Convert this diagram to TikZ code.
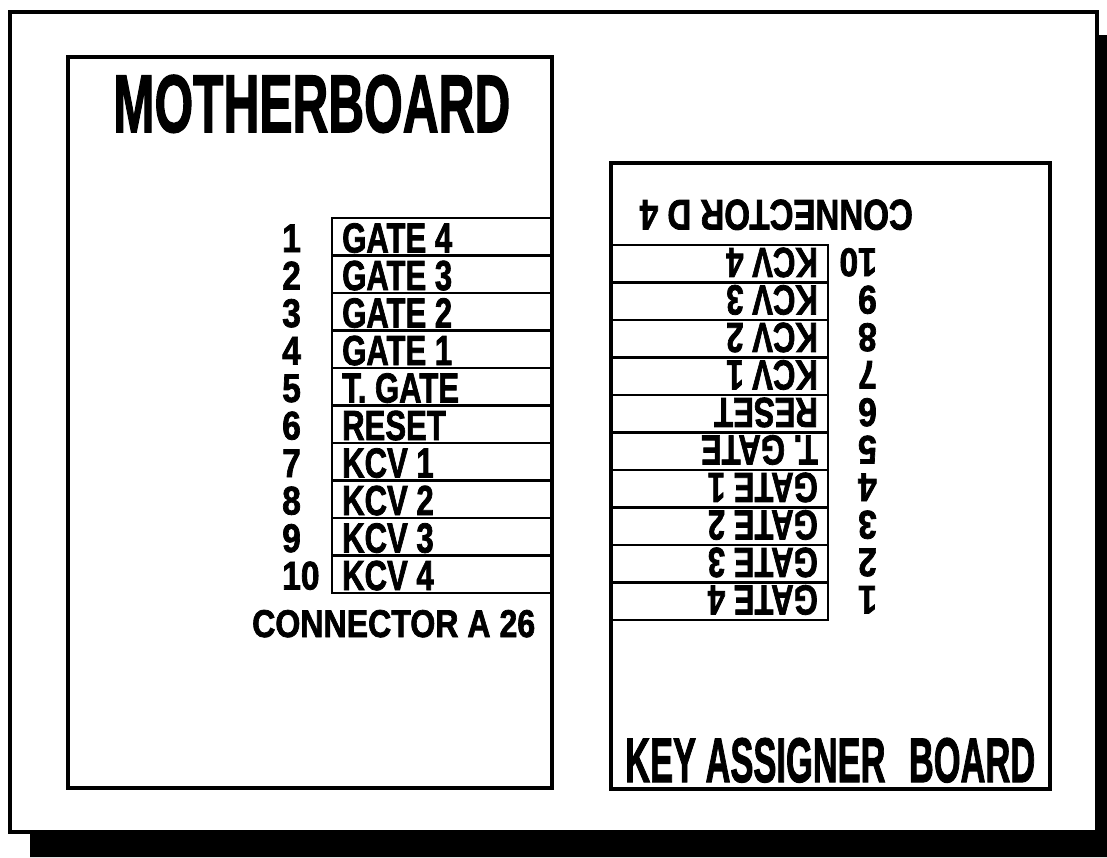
\documentclass[tikz,border=0pt]{standalone}
\usepackage{fontspec}
\newfontfamily\hv{Liberation Sans Bold}[FakeBold=2]
\begin{document}
\begin{tikzpicture}[x=1pt,y=-1pt,
  box/.style={draw=black,line width=3.5pt},
  tab/.style={draw=black,line width=2.8pt},
  lbl/.style={inner sep=0pt,anchor=base west,font=\hv\fontsize{42}{42}\selectfont},
  rlbl/.style={lbl,rotate=180},
  num/.style={inner sep=0pt,anchor=base west,font=\hv\fontsize{40}{40}\selectfont},
  rnum/.style={num,rotate=180},
  ttl/.style={inner sep=0pt,anchor=base west,font=\hv},
]
\useasboundingbox (0,0) rectangle (1107,857);
% shadow and outer frame
\fill[black] (30,832) -- (1097,832) -- (1097,35) -- (1107,35) -- (1107,857) -- (30,857) -- cycle;
\draw[box] (10,12) rectangle (1097,832);
% motherboard
\draw[box] (68,57) rectangle (552,788);
\node[ttl] (mbt) at (113,132) {\resizebox{397pt}{57pt}{MOTHERBOARD}};
\foreach \t [count=\i from 0] in {GATE 4,GATE 3,GATE 2,GATE 1,T. GATE,RESET,KCV 1,KCV 2,KCV 3,KCV 4}{
  \pgfmathsetmacro\yt{218+37.5*\i}
  \draw[tab] (332,\yt) rectangle (551,\yt+37.5);
  \node[lbl] (ml\i) at (342,\yt+34.5) {\scalebox{0.74}[1]{\t}};
  \node[num] (mn\i) at (282,\yt+34) {\scalebox{0.84}[1]{\the\numexpr\i+1\relax}};
}
\node[ttl] (mca) at (252,637) {\resizebox{283pt}{27pt}{CONNECTOR A 26}};
% key assigner board
\draw[box] (611,163) rectangle (1050,789);
\node[ttl,rotate=180] (kcd) at (913,200) {\resizebox{273pt}{30pt}{CONNECTOR D 4}};
\foreach \t [count=\i from 0] in {KCV 4,KCV 3,KCV 2,KCV 1,RESET,T. GATE,GATE 1,GATE 2,GATE 3,GATE 4}{
  \pgfmathsetmacro\yt{245+37.5*\i}
  \draw[tab] (611,\yt) rectangle (828,\yt+37.5);
  \node[rlbl] (kl\i) at (818,\yt+3) {\scalebox{0.74}[1]{\t}};
  \node[rnum] (kn\i) at (877,\yt+3.5) {\scalebox{0.84}[1]{\the\numexpr10-\i\relax}};
}
\node[ttl] (kab) at (625,782) {\resizebox{410pt}{44pt}{KEY ASSIGNER\hspace{0.4em} BOARD}};
\end{tikzpicture}
\end{document}
